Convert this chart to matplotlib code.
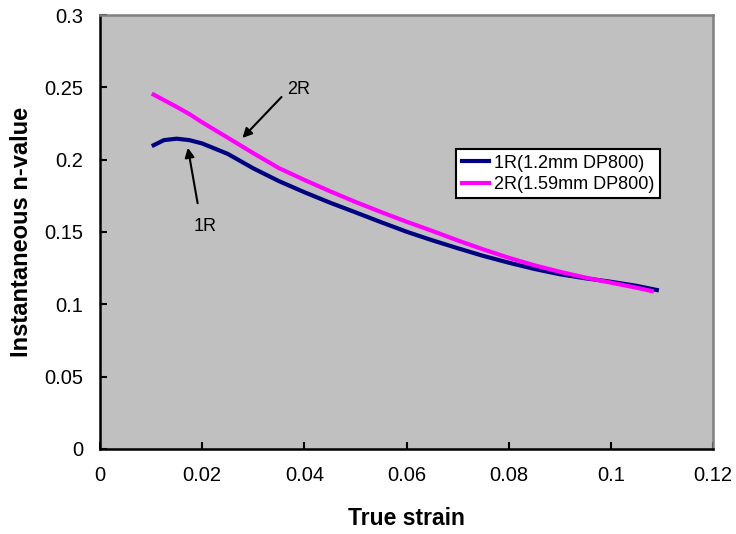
import matplotlib
matplotlib.use("Agg")
import matplotlib.pyplot as plt
from matplotlib.ticker import FuncFormatter

plt.rcParams["font.family"] = ["Liberation Sans", "DejaVu Sans"]

strain_1r = [0.0105, 0.0125, 0.015, 0.0175, 0.02, 0.025, 0.03, 0.035, 0.04,
             0.045, 0.05, 0.055, 0.06, 0.065, 0.07, 0.075, 0.08, 0.085, 0.09,
             0.095, 0.10, 0.105, 0.109]
n_1r = [0.2100, 0.2135, 0.2145, 0.2135, 0.2112, 0.2040, 0.1940, 0.1852, 0.1775,
        0.1703, 0.1636, 0.1568, 0.1502, 0.1443, 0.1388, 0.1335, 0.1288, 0.1245,
        0.1208, 0.1180, 0.1156, 0.1128, 0.1099]

strain_2r = [0.0105, 0.0125, 0.015, 0.0175, 0.02, 0.025, 0.03, 0.035, 0.04,
             0.045, 0.05, 0.055, 0.06, 0.065, 0.07, 0.075, 0.08, 0.085, 0.09,
             0.095, 0.10, 0.105, 0.108]
n_2r = [0.2450, 0.2412, 0.2365, 0.2315, 0.2258, 0.2152, 0.2045, 0.1942, 0.1860,
        0.1782, 0.1708, 0.1638, 0.1571, 0.1508, 0.1442, 0.1380, 0.1322, 0.1270,
        0.1225, 0.1185, 0.1150, 0.1115, 0.1092]

x_ticks = [0, 0.02, 0.04, 0.06, 0.08, 0.1, 0.12]
y_ticks = [0, 0.05, 0.1, 0.15, 0.2, 0.25, 0.3]

C_1R, C_2R = "#000080", "#FF00FF"

fig = plt.figure(figsize=(7.36, 5.34), dpi=100)
ax = fig.add_axes([0.1359, 0.1592, 0.8329, 0.8127])
ax.set_facecolor("#C0C0C0")

ax.plot(strain_1r, n_1r, color=C_1R, lw=3, label="1R(1.2mm DP800)")
ax.plot(strain_2r, n_2r, color=C_2R, lw=3, label="2R(1.59mm DP800)")

ax.set_xlim(0, 0.12)
ax.set_ylim(0, 0.3)
ax.set_xticks(x_ticks)
ax.set_yticks(y_ticks)
fmt = FuncFormatter(lambda v, p: "%g" % round(v, 4))
ax.xaxis.set_major_formatter(fmt)
ax.yaxis.set_major_formatter(fmt)
ax.tick_params(direction="in", length=5, width=1.5, labelsize=14.5, pad=12,
               top=False, right=False)

for side in ("left", "bottom"):
    ax.spines[side].set_color("black")
    ax.spines[side].set_linewidth(1.8)
for side in ("top", "right"):
    ax.spines[side].set_color("#808080")
    ax.spines[side].set_linewidth(1.8)

ax.set_xlabel("True strain", fontsize=16.5, fontweight="bold", labelpad=16)
ax.set_ylabel("Instantaneous n-value", fontsize=17, fontweight="bold",
              labelpad=8)

arrow = dict(arrowstyle="-|>", color="black", lw=1.5, mutation_scale=14)
ax.annotate("", xy=(0.0275, 0.2136), xytext=(0.0359, 0.2447),
            arrowprops=arrow)
ax.text(0.0367, 0.2485, "2R", fontsize=13, ha="left", va="center")
ax.annotate("", xy=(0.0171, 0.2101), xytext=(0.0192, 0.168),
            arrowprops=arrow)
ax.text(0.0205, 0.154, "1R", fontsize=13, ha="center", va="center")

leg = ax.legend(loc="upper left", bbox_to_anchor=(0.581, 0.691), fontsize=13,
                frameon=True, fancybox=False, edgecolor="black",
                framealpha=1, handlelength=1.5, borderpad=0.3,
                labelspacing=0.25, handletextpad=0.3, borderaxespad=0)
leg.get_frame().set_linewidth(1.5)

fig.savefig("out.png", dpi=100)
